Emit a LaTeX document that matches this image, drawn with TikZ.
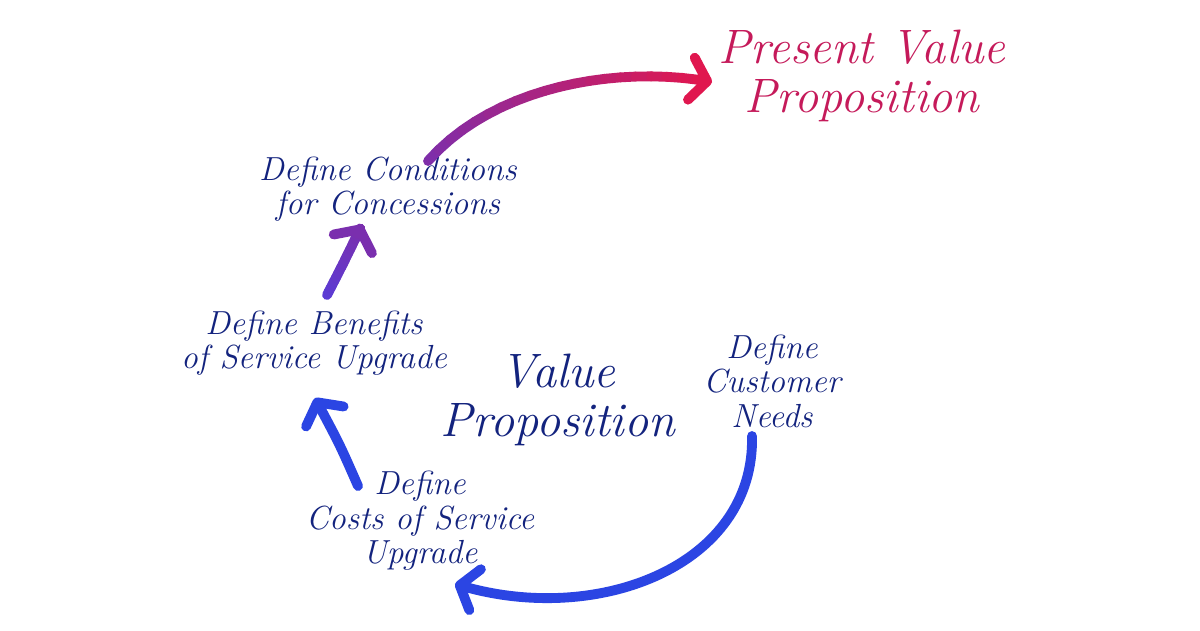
\documentclass[tikz,border=0pt]{standalone}
\usepackage{tikz}
\usepackage{xcolor}
\usetikzlibrary{arrows.meta,positioning,calc,decorations.markings}
\definecolor{cNavy}{HTML}{13237E}
\definecolor{cRose}{HTML}{C51A5A}
\definecolor{cBlue}{HTML}{2B45E3}
\definecolor{cIndigo}{HTML}{5A3CD6}
\definecolor{cPurple}{HTML}{7A2FAE}
\definecolor{cRed}{HTML}{E0174F}
\tikzset{
  step text/.style={align=center,text=cNavy,font=\fontsize{19}{19.6}\selectfont\itshape,inner sep=2pt},
  big text/.style={align=center,font=\fontsize{27.5}{28}\selectfont\itshape,inner sep=2pt},
  flow/.style={line width=5.6pt,line cap=round},
  flowtip/.style={flow,-{Straight Barb[length=3.2mm,width=8.5mm,round]}},
  gradpts/.style={decorate,decoration={markings,
    mark=between positions 0 and 1 step 0.05 with
      {\coordinate (#1\pgfkeysvalueof{/pgf/decoration/mark info/sequence number});}}},
}
\begin{document}
\begin{tikzpicture}
  \useasboundingbox[fill=white] (0,0) rectangle (24,12.6);
  % labels
  \node[big text,text=cRose](pres) at (17.24,11.08){Present Value\\Proposition};
  \node[big text,text=cNavy](vp) at (11.16,4.6){Value\\Proposition};
  \node[step text](cond) at (7.76,8.82){Define Conditions\\for Concessions};
  \node[step text](ben) at (6.28,5.74){Define Benefits\\of Service Upgrade};
  \node[step text](needs) at (15.44,4.98){Define\\Customer\\Needs};
  \node[step text](costs) at (8.4,2.18){Define\\Costs of Service\\Upgrade};
  % end points of the arrows
  \coordinate (n1) at ($(needs)+(-0.4,-1.1)$);
  \coordinate (c1) at ($(costs)+(0.7,-1.26)$);
  \coordinate (c2) at ($(costs)+(-1.24,0.7)$);
  \coordinate (b2) at ($(ben)+(0.02,-1.1)$);
  \coordinate (b3) at ($(ben)+(0.26,0.96)$);
  \coordinate (k3) at ($(cond)+(-0.52,-0.72)$);
  \coordinate (k4) at ($(cond)+(0.8,0.56)$);
  \coordinate (p4) at ($(pres)+(-3.0,-0.12)$);
  % blue arrows
  \draw[flowtip,cBlue](n1) .. controls (15.1,1.3) and (12,0.1) .. (c1);
  \draw[flowtip,cBlue](c2) .. controls (6.8,3.7) .. (b2);
  % shaded arrows
  \path[gradpts=u](b3) .. controls (6.85,7.3) .. (k3);
  \foreach \k [evaluate=\k as \j using int(\k+1),evaluate=\k as \p using int(5*\k)] in {1,...,19}
    \draw[flow,color=cPurple!\p!cIndigo](u\k) -- (u\j);
  \draw[flowtip,cPurple](u20) -- (k3);
  \path[gradpts=v](k4) .. controls (9.9,10.9) and (12.4,11.3) .. (p4);
  \foreach \k [evaluate=\k as \j using int(\k+1),evaluate=\k as \p using int(5*\k)] in {1,...,19}
    \draw[flow,color=cRed!\p!cPurple](v\k) -- (v\j);
  \draw[flowtip,cRed](v20) -- (p4);
\end{tikzpicture}
\end{document}
